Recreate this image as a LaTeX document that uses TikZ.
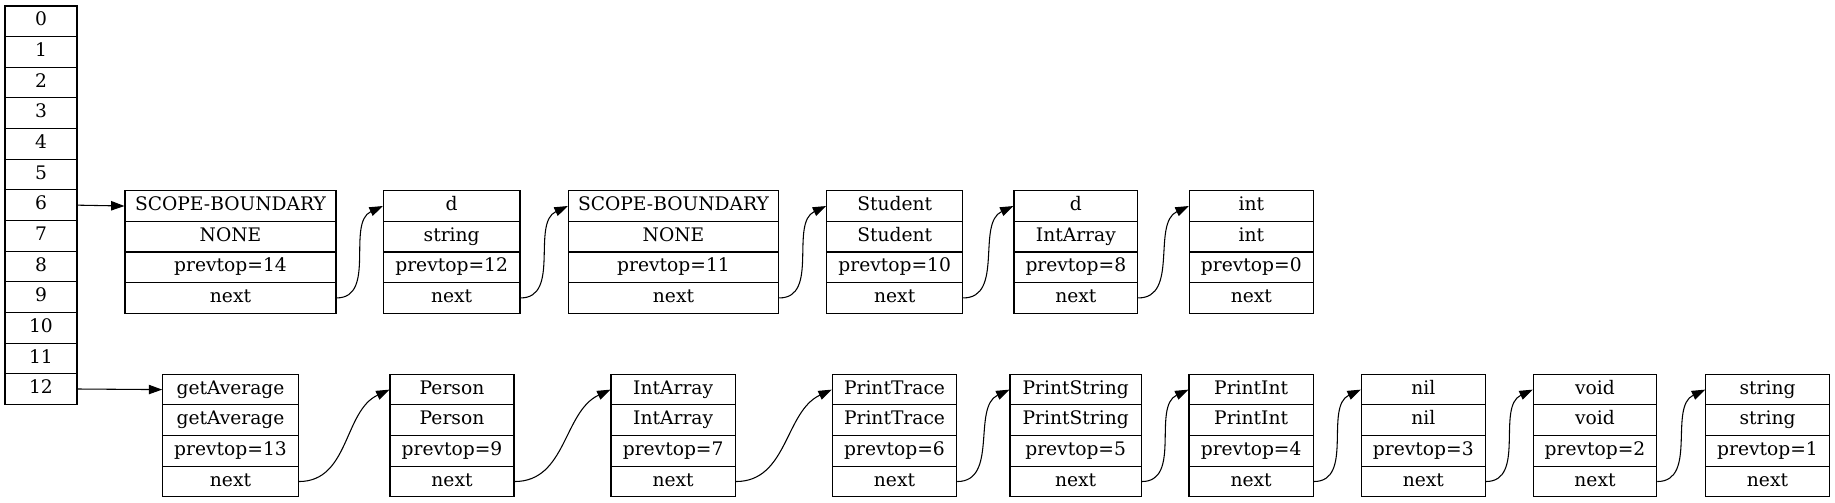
\documentclass[tikz,border=0pt]{standalone}
\usepackage{fontspec}
\setmainfont{DejaVu Serif}
\usetikzlibrary{arrows.meta}
\def\rowh{30.64}
\newcommand\recbox[8]{%
  \node[cell, minimum width={(#3-#2)*0.75pt}] (#1a) at ({(#2+#3)/2},{#4+0.5*\rowh}) {#5};
  \node[cell, minimum width={(#3-#2)*0.75pt}] (#1b) at ({(#2+#3)/2},{#4+1.5*\rowh}) {#6};
  \node[cell, minimum width={(#3-#2)*0.75pt}] (#1c) at ({(#2+#3)/2},{#4+2.5*\rowh}) {#7};
  \node[cell, minimum width={(#3-#2)*0.75pt}] (#1d) at ({(#2+#3)/2},{#4+3.5*\rowh}) {#8};
}
\begin{document}
\begin{tikzpicture}[x=0.75pt,y=-0.75pt,
  cell/.style={draw, rectangle, inner sep=0pt, line width=0.8pt,
    minimum height=22.98pt, text height=10pt, text depth=3pt,
    font=\fontsize{14}{16}\selectfont},
  edge/.style={line width=0.8pt, -{Triangle[length=10pt,width=7pt]}},
  link/.style={edge, out=0, in=205}]
\useasboundingbox (0,0) rectangle (1835,503);
% array
\foreach \i in {0,...,12}{
  \node[cell, minimum width=54pt] (arr\i) at (41,{6+(\i+0.5)*\rowh}) {\i};
}
% top row
\recbox{t1}{125}{336}{190.7}{SCOPE-BOUNDARY}{NONE}{prevtop=14}{next}
\recbox{t2}{383.3}{520}{190.7}{d}{string}{prevtop=12}{next}
\recbox{t3}{568.3}{778.7}{190.7}{SCOPE-BOUNDARY}{NONE}{prevtop=11}{next}
\recbox{t4}{826.7}{962.7}{190.7}{Student}{Student}{prevtop=10}{next}
\recbox{t5}{1014}{1137.7}{190.7}{d}{IntArray}{prevtop=8}{next}
\recbox{t6}{1189.3}{1313.3}{190.7}{int}{int}{prevtop=0}{next}
% bottom row
\recbox{b1}{162.7}{298.3}{374.3}{getAverage}{getAverage}{prevtop=13}{next}
\recbox{b2}{390}{514}{374.3}{Person}{Person}{prevtop=9}{next}
\recbox{b3}{611}{735.3}{374.3}{IntArray}{IntArray}{prevtop=7}{next}
\recbox{b4}{832.3}{956.7}{374.3}{PrintTrace}{PrintTrace}{prevtop=6}{next}
\recbox{b5}{1010}{1141.3}{374.3}{PrintString}{PrintString}{prevtop=5}{next}
\recbox{b6}{1189}{1313.3}{374.3}{PrintInt}{PrintInt}{prevtop=4}{next}
\recbox{b7}{1361.3}{1485.3}{374.3}{nil}{nil}{prevtop=3}{next}
\recbox{b8}{1533.3}{1656.7}{374.3}{void}{void}{prevtop=2}{next}
\recbox{b9}{1705.7}{1829.3}{374.3}{string}{string}{prevtop=1}{next}
% edges
\draw[edge] (arr6.east) -- (t1a.west);
\draw[edge] (arr12.east) -- (b1a.west);
\foreach \a/\b in {t1/t2,t2/t3,t3/t4,t4/t5,t5/t6,b1/b2,b2/b3,b3/b4,b4/b5,b5/b6,b6/b7,b7/b8,b8/b9}{
  \draw[link] (\a d.east) to (\b a.west);
}
\end{tikzpicture}
\end{document}
